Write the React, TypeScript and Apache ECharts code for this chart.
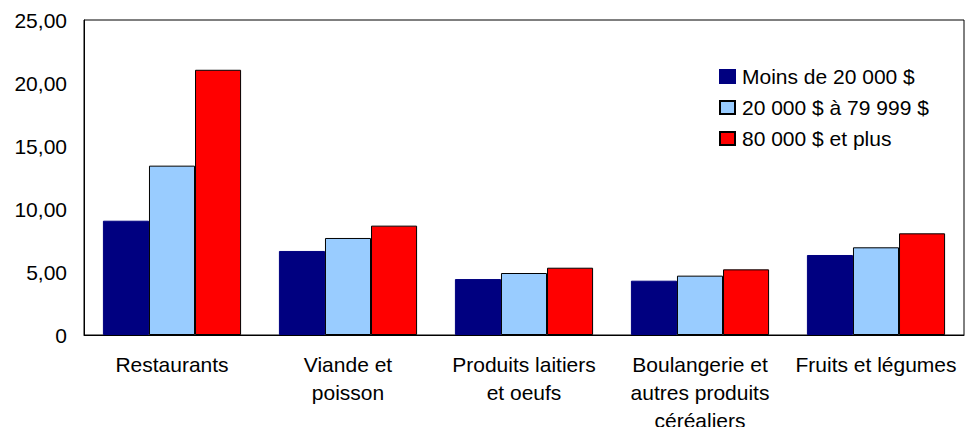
import React, { useEffect, useRef } from "react";
import * as echarts from "echarts";

const categories = [
  "Restaurants",
  "Viande et\npoisson",
  "Produits laitiers\net oeufs",
  "Boulangerie et\nautres produits\ncéréaliers",
  "Fruits et légumes",
];
const seriesNames = ["Moins de 20 000 $", "20 000 $ à 79 999 $", "80 000 $ et plus"];
const lowIncome = [9.07, 6.67, 4.44, 4.31, 6.35];
const midIncome = [13.44, 7.7, 4.92, 4.71, 6.96];
const highIncome = [21.05, 8.68, 5.34, 5.21, 8.07];
const seriesColors = ["#000080", "#99ccff", "#ff0000"];
const yTicks = { min: 0, max: 25, interval: 5 };

const FONT = "'Liberation Sans', Arial, sans-serif";

export default function App() {
  const ref = useRef<HTMLDivElement>(null);
  useEffect(() => {
    if (!ref.current) return;
    const chart = echarts.init(ref.current, undefined, { renderer: "svg" });
    const values = [lowIncome, midIncome, highIncome];
    chart.setOption({
      animation: false,
      backgroundColor: "#ffffff",
      textStyle: { fontFamily: FONT },
      grid: {
        left: 84,
        right: 4,
        top: 20,
        bottom: 92,
        outerBoundsMode: "none",
        containLabel: false,
        show: true,
        borderColor: "#000",
        borderWidth: 1,
        backgroundColor: "transparent",
      },
      legend: {
        orient: "vertical",
        left: 719,
        top: 66,
        padding: 0,
        itemWidth: 15,
        itemHeight: 13,
        itemGap: 10,
        icon: "rect",
        textStyle: { fontSize: 21, color: "#000", fontFamily: FONT, padding: [0, 0, 0, 2] },
        data: seriesNames,
      },
      xAxis: {
        type: "category",
        data: categories,
        axisLine: { show: true, lineStyle: { color: "#000", width: 1 } },
        axisTick: { show: false },
        axisLabel: {
          interval: 0,
          fontSize: 21,
          color: "#000",
          fontFamily: FONT,
          lineHeight: 28,
          margin: 15,
        },
      },
      yAxis: {
        type: "value",
        min: yTicks.min,
        max: yTicks.max,
        interval: yTicks.interval,
        splitLine: { show: false },
        axisLine: { show: true, lineStyle: { color: "#000", width: 1 } },
        axisTick: { show: false },
        axisLabel: {
          fontSize: 21,
          color: "#000",
          fontFamily: FONT,
          margin: 17,
          formatter: (v: number) => (v === 0 ? "0" : v.toFixed(2).replace(".", ",")),
        },
      },
      series: seriesNames.map((name, i) => ({
        name,
        type: "bar",
        data: values[i],
        barGap: "0%",
        barCategoryGap: "21.5%",
        itemStyle: {
          color: seriesColors[i],
          borderColor: i === 0 ? seriesColors[0] : "#000",
          borderWidth: 1,
        },
      })),
    });
    return () => chart.dispose();
  }, []);
  return (
    <div
      ref={ref}
      style={{ position: "fixed", left: 0, top: 0, width: 968, height: 427 }}
    />
  );
}
